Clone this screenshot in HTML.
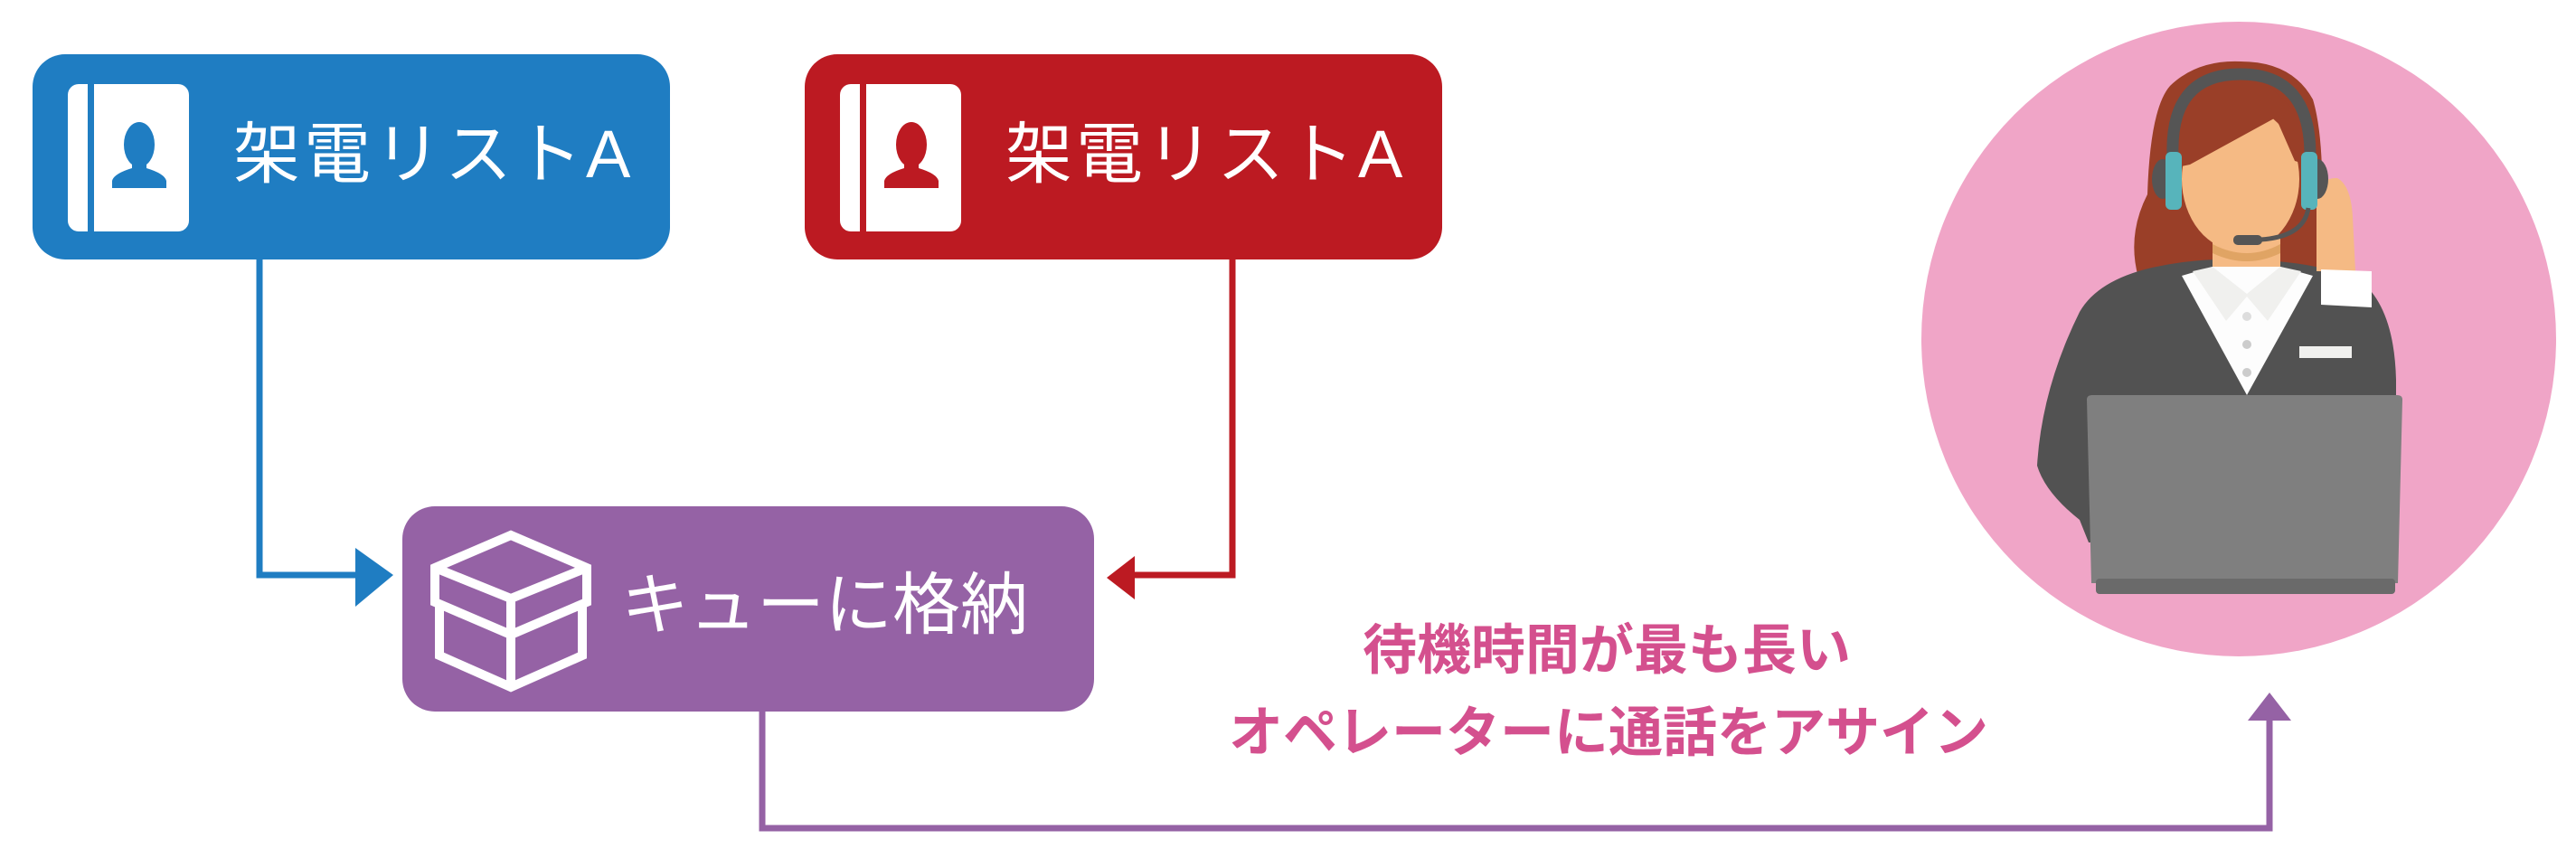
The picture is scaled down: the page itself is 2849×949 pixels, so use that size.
<!DOCTYPE html>
<html><head><meta charset="utf-8"><style>
html,body{margin:0;padding:0;background:#fff}
body{width:2849px;height:949px;overflow:hidden;position:relative}
.t{position:absolute;font-family:"Liberation Sans","Noto Sans CJK JP",sans-serif;white-space:nowrap;line-height:1}
</style></head><body>
<svg width="2849" height="949" style="position:absolute;left:0;top:0">
<rect x="36" y="60" width="705" height="227" rx="36" fill="#1f7dc2"/>
<rect x="890" y="60" width="705" height="227" rx="36" fill="#bc1a22"/>
<rect x="445" y="560" width="765" height="227" rx="36" fill="#9562a5"/>
<g>
<rect x="75" y="93" width="134" height="163" rx="12" fill="#fff"/>
<rect x="97" y="93" width="7" height="163" fill="#1f7dc2"/>
<ellipse cx="154" cy="160" rx="17" ry="25" fill="#1f7dc2"/>
<path d="M146,178 L146,186 Q126,192 124,200 L124,208 L184,208 L184,200 Q182,192 162,186 L162,178 Z" fill="#1f7dc2"/>
</g>
<g transform="translate(854,0)">
<rect x="75" y="93" width="134" height="163" rx="12" fill="#fff"/>
<rect x="97" y="93" width="7" height="163" fill="#bc1a22"/>
<ellipse cx="154" cy="160" rx="17" ry="25" fill="#bc1a22"/>
<path d="M146,178 L146,186 Q126,192 124,200 L124,208 L184,208 L184,200 Q182,192 162,186 L162,178 Z" fill="#bc1a22"/>
</g>
<g fill="none" stroke="#fff" stroke-width="10" stroke-linejoin="miter">
<polygon points="481,628 565,592 649,628 649,666 565,702 481,666"/>
<polyline points="481,628 565,662 649,628"/>
<line x1="565" y1="662" x2="565" y2="760"/>
<polyline points="486,668 486,725 565,760 644,725 644,668"/>
</g>
<polyline points="287,287 287,636 400,636" fill="none" stroke="#1f7dc2" stroke-width="7"/>
<polygon points="393,606 435,636 393,671" fill="#1f7dc2"/>
<polyline points="1363,287 1363,636 1250,636" fill="none" stroke="#bc1a22" stroke-width="7"/>
<polygon points="1255,615 1224,639 1255,663" fill="#bc1a22"/>
<polyline points="843,787 843,916 2510,916 2510,790" fill="none" stroke="#9562a5" stroke-width="7"/>
<polygon points="2486,797 2510,766 2534,797" fill="#9562a5"/>
<circle cx="2476" cy="375" r="351" fill="#f0a5c7"/>
<clipPath id="cc"><circle cx="2476" cy="375" r="351"/></clipPath>
<g clip-path="url(#cc)">
<path d="M2365,307 Q2352,260 2375,215 Q2378,120 2400,95 Q2430,66 2478,68 Q2535,68 2558,110 Q2570,150 2568,230 L2575,300 Z" fill="#9a3f28"/>
<path d="M2253,515 Q2258,430 2300,345 Q2320,310 2380,296 Q2430,285 2478,287 Q2560,288 2610,310 Q2648,340 2650,420 L2650,600 L2310,600 L2300,575 Q2262,545 2253,515 Z" fill="#525252"/>
<rect x="2447" y="262" width="75" height="50" fill="#f5ba84"/>
<path d="M2447,310 Q2480,332 2522,310 L2522,300 L2447,300 Z" fill="#f5ba84"/>
<path d="M2447,270 Q2485,290 2522,270 L2522,280 Q2485,298 2447,280 Z" fill="#e0a464"/>
<polygon points="2413,305 2447,295 2522,295 2558,305 2485,437" fill="#fdfdfd"/>
<polygon points="2425,300 2447,295 2485,325 2522,295 2545,300 2508,355 2485,328 2462,355" fill="#f0f0ee"/>
<circle cx="2485" cy="350" r="5" fill="#ddd"/><circle cx="2485" cy="381" r="5" fill="#ccc"/><circle cx="2485" cy="412" r="5" fill="#ccc"/>
<ellipse cx="2478" cy="198" rx="65" ry="80" fill="#f5ba84"/>
<polygon points="2408,185 2410,120 2450,95 2510,95 2545,130 2545,180 2538,178 2517,130 2422,182" fill="#9a3f28"/>
<path d="M2562,300 L2562,215 Q2568,196 2585,197 Q2600,205 2602,240 L2605,300 Z" fill="#f5ba84"/>
<path d="M2403,172 Q2400,82 2478,82 Q2555,82 2555,172" fill="none" stroke="#555" stroke-width="13"/>
<ellipse cx="2392" cy="198" rx="12" ry="22" fill="#555"/><ellipse cx="2563" cy="198" rx="12" ry="22" fill="#555"/>
<rect x="2395" y="168" width="18" height="64" rx="6" fill="#57b4bb"/>
<rect x="2545" y="168" width="18" height="64" rx="6" fill="#57b4bb"/>
<path d="M2553,230 Q2548,262 2500,265" fill="none" stroke="#555" stroke-width="5"/>
<rect x="2470" y="260" width="32" height="11" rx="5" fill="#555"/>
<polygon points="2567,298 2623,300 2623,340 2567,337" fill="#fff"/>
<rect x="2543" y="383" width="58" height="13" fill="#f0f0ee"/>
<path d="M2308,442 Q2308,437 2314,437 L2651,437 Q2657,437 2657,442 L2652,645 L2313,645 Z" fill="#7f7f7f"/>
<rect x="2318" y="640" width="331" height="17" rx="4" fill="#6a6a6a"/>
</g>
</svg>
<div class="t" style="left:258px;top:134px;font-size:74px;letter-spacing:4px;color:#fff">架電リストA</div>
<div class="t" style="left:1112px;top:134px;font-size:74px;letter-spacing:4px;color:#fff">架電リストA</div>
<div class="t" style="left:687px;top:632px;font-size:75px;color:#fff">キューに格納</div>
<div class="t" style="left:1507px;top:690px;font-size:60px;font-weight:bold;color:#d4508e">待機時間が最も長い</div>
<div class="t" style="left:1359px;top:781px;font-size:60px;font-weight:bold;color:#d4508e">オペレーターに通話をアサイン</div>
</body></html>
